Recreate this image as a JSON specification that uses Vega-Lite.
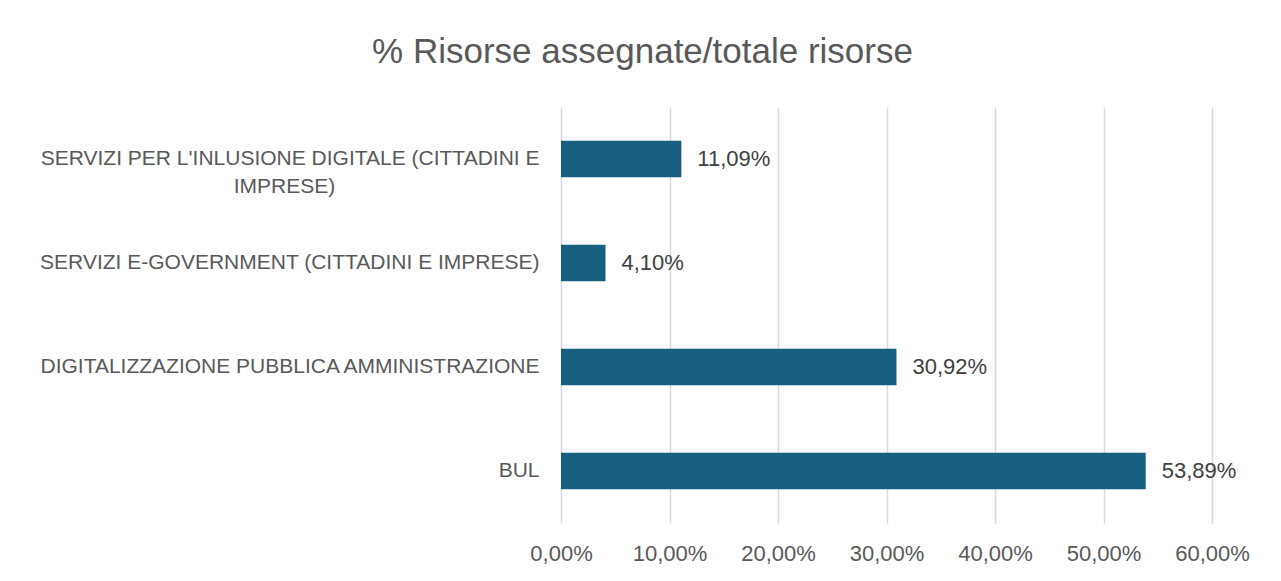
{
  "$schema": "https://vega.github.io/schema/vega-lite/v6.json",
  "autosize": "none",
  "width": 651,
  "height": 416,
  "padding": {"left": 561, "top": 107, "right": 69, "bottom": 58},
  "background": "white",
  "config": {
    "font": "Liberation Sans",
    "view": {"stroke": null},
    "locale": {"number": {"decimal": ",", "thousands": ".", "grouping": [3], "currency": ["€", ""]}}
  },
  "title": {
    "text": "% Risorse assegnate/totale risorse",
    "fontSize": 35,
    "fontWeight": "normal",
    "color": "#595959",
    "anchor": "middle",
    "dx": -244,
    "offset": 37
  },
  "data": {
    "values": [
      {"categoria": "SERVIZI PER L'INLUSIONE DIGITALE (CITTADINI E|IMPRESE)", "quota": 0.1109},
      {"categoria": "SERVIZI E-GOVERNMENT (CITTADINI E IMPRESE)", "quota": 0.0410},
      {"categoria": "DIGITALIZZAZIONE PUBBLICA AMMINISTRAZIONE", "quota": 0.3092},
      {"categoria": "BUL", "quota": 0.5389}
    ]
  },
  "encoding": {
    "y": {
      "field": "categoria",
      "type": "nominal",
      "sort": null,
      "scale": {"paddingInner": 0.65, "paddingOuter": 0.325},
      "axis": {
        "title": null,
        "domain": false,
        "ticks": false,
        "grid": false,
        "labelPadding": 22,
        "labelLimit": 700,
        "labelFontSize": 21,
        "labelColor": "#595959",
        "labelLineHeight": 28,
        "labelExpr": "indexof(datum.value, '|') >= 0 ? [split(datum.value, '|')[0], pad(split(datum.value, '|')[1], 43, '\u00a0', 'right') + '\u200b'] : datum.value"
      }
    },
    "x": {
      "field": "quota",
      "type": "quantitative",
      "scale": {"domain": [0, 0.6], "nice": false},
      "axis": {
        "title": null,
        "format": ".2%",
        "values": [0, 0.1, 0.2, 0.3, 0.4, 0.5, 0.6],
        "labelOverlap": false,
        "labelFlush": false,
        "domain": false,
        "ticks": false,
        "grid": true,
        "gridColor": "#d9d9d9",
        "gridWidth": 1.5,
        "labelFontSize": 22,
        "labelColor": "#595959",
        "labelPadding": 20
      }
    }
  },
  "layer": [
    {"mark": {"type": "bar", "color": "#175F81"}},
    {
      "mark": {"type": "text", "align": "left", "baseline": "middle", "dx": 16, "fontSize": 22, "color": "#404040"},
      "encoding": {"text": {"field": "quota", "type": "quantitative", "format": ".2%"}}
    }
  ]
}
